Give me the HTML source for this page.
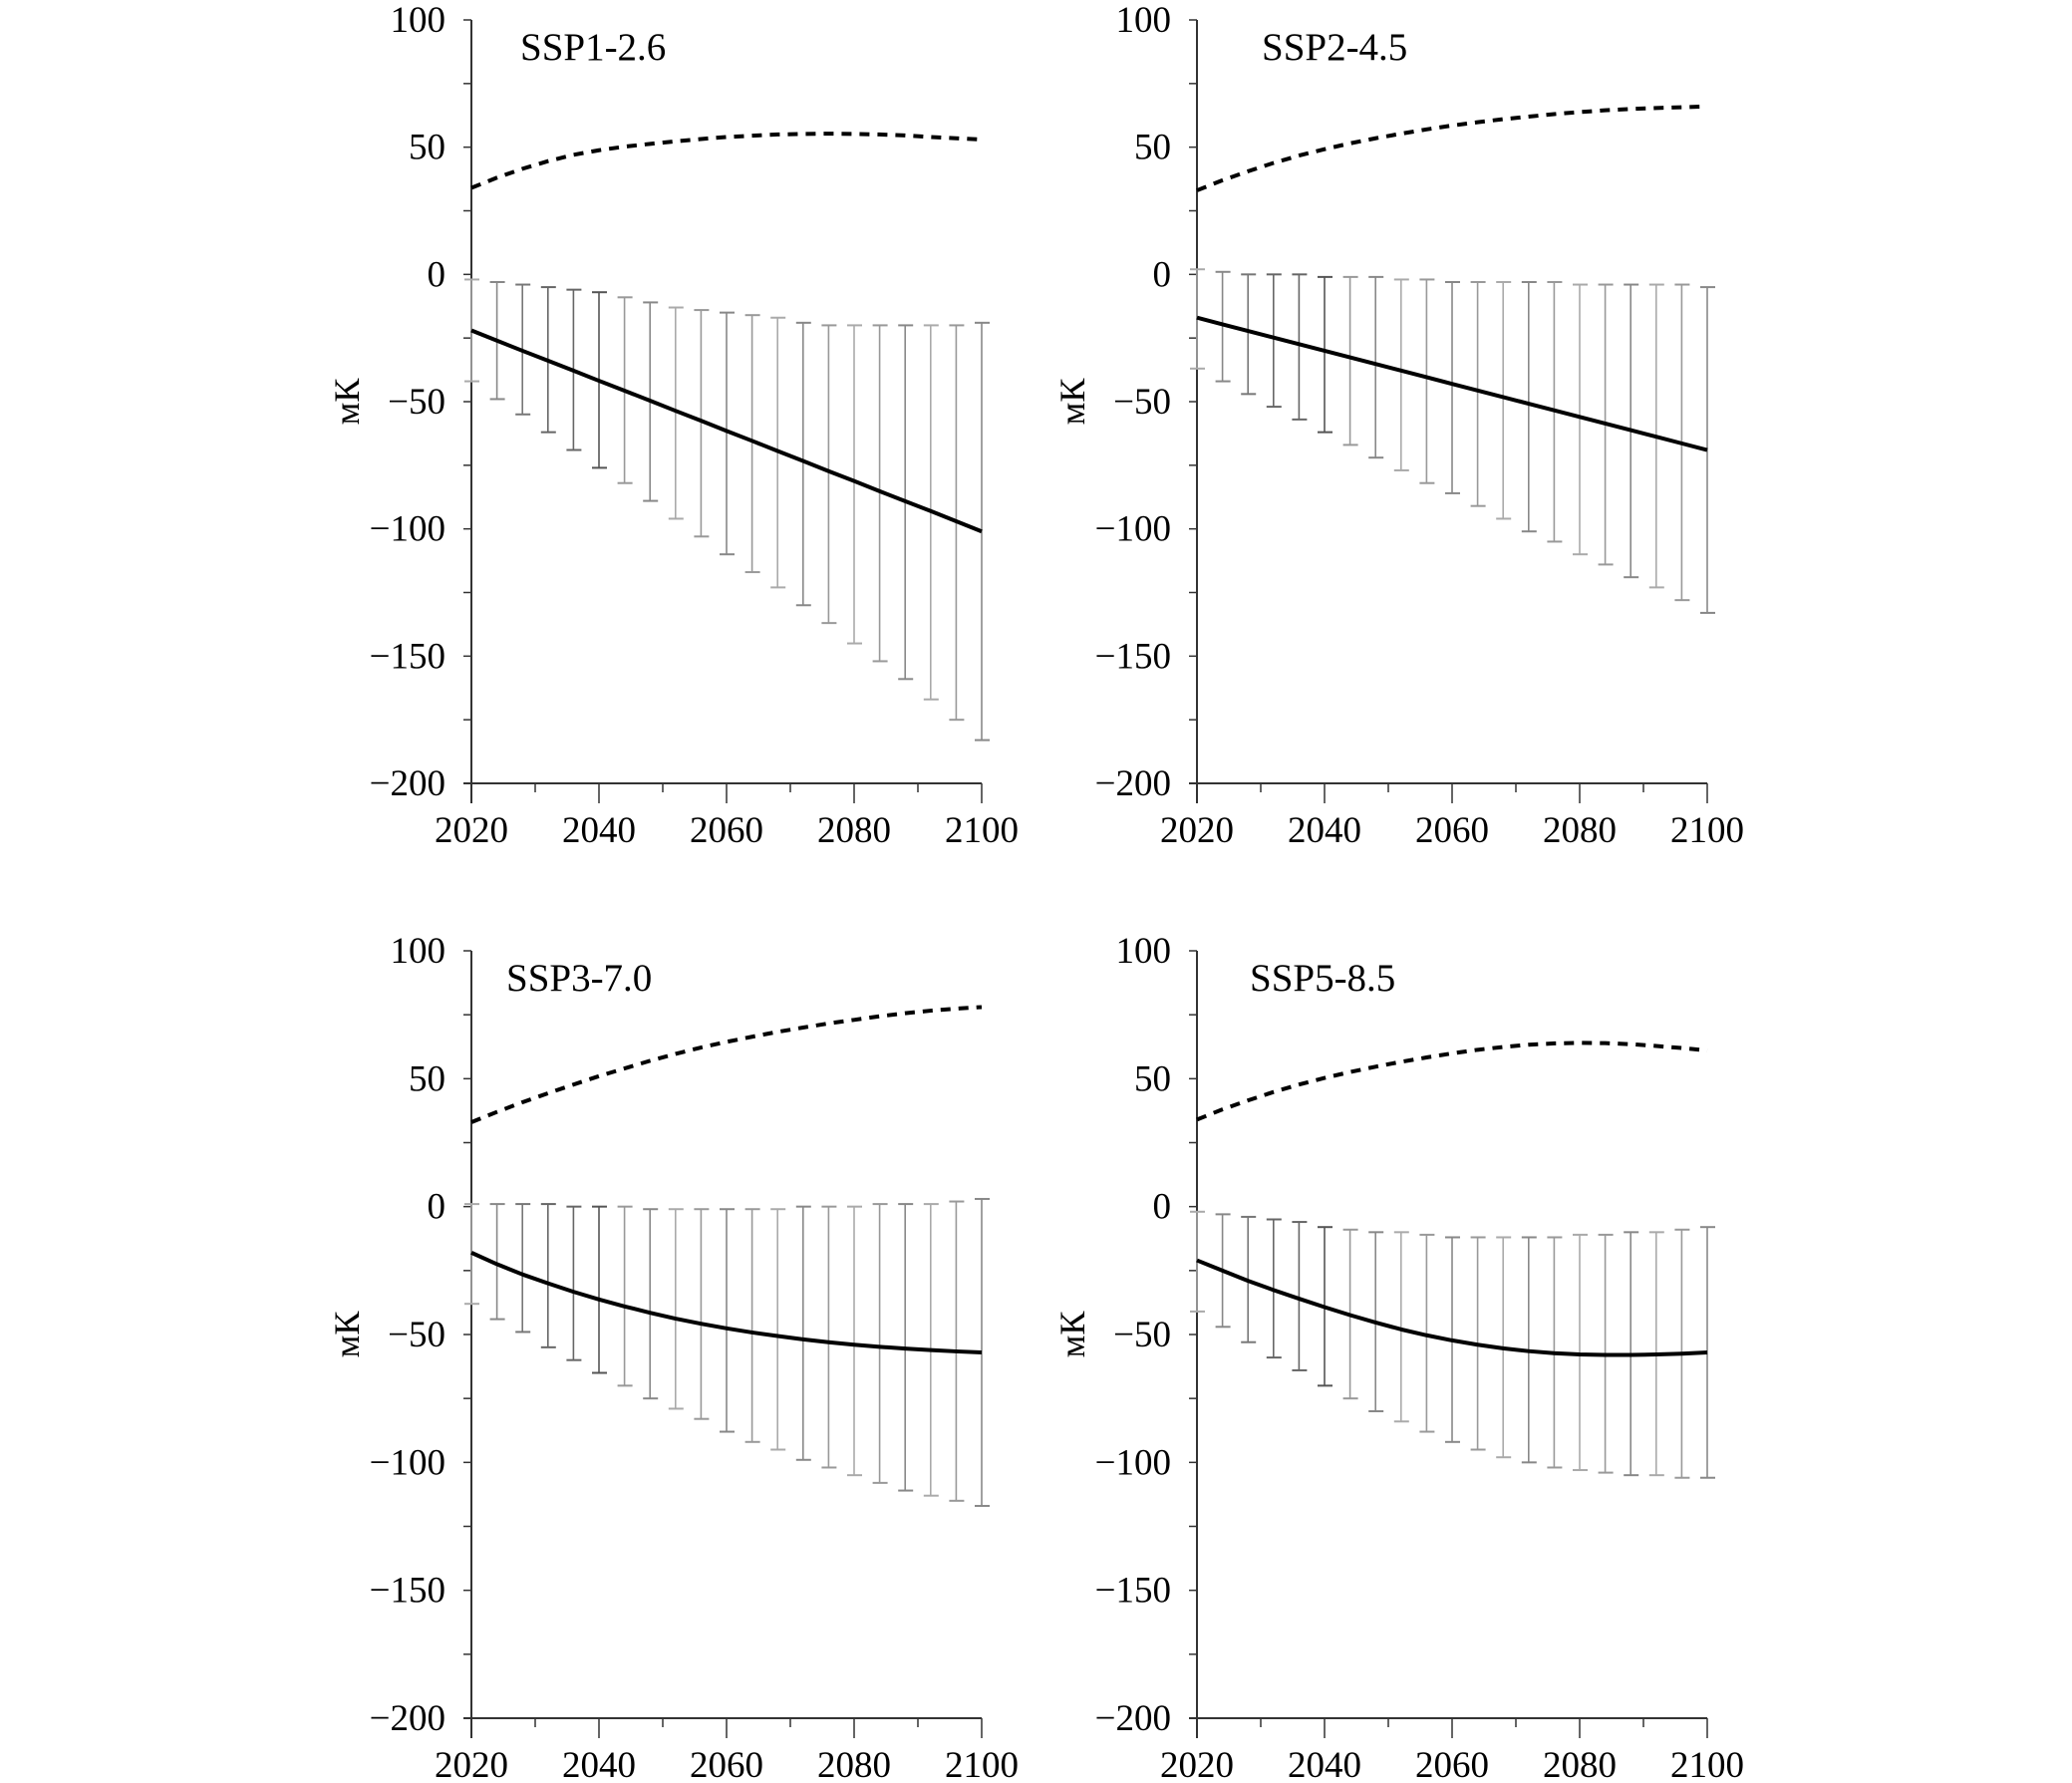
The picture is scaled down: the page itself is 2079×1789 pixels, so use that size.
<!DOCTYPE html>
<html><head><meta charset="utf-8"><style>
html,body{margin:0;padding:0;background:#fff;}
svg{display:block;}
text{font-family:"Liberation Serif","Times New Roman",serif;fill:#000;}
</style></head>
<body>
<svg id="fig" width="2079" height="1789" viewBox="0 0 2079 1789"></svg>
<script>
const years=[2020,2024,2028,2032,2036,2040,2044,2048,2052,2056,2060,2064,2068,2072,2076,2080,2084,2088,2092,2096,2100];
const titles=["SSP1-2.6","SSP2-4.5","SSP3-7.0","SSP5-8.5"];
const mean1=[-22,-26,-30,-33.9,-37.8,-41.8,-45.7,-49.6,-53.6,-57.5,-61.5,-65.4,-69.4,-73.3,-77.3,-81.2,-85.2,-89.1,-93,-97,-101];
const upper1=[-2,-3,-4,-5,-6,-7,-9,-11,-13,-14,-15,-16,-17,-19,-20,-20,-20,-20,-20,-20,-19];
const lower1=[-42,-49,-55,-62,-69,-76,-82,-89,-96,-103,-110,-117,-123,-130,-137,-145,-152,-159,-167,-175,-183];
const dash1=[34,38,41.5,44.5,47,48.8,50.2,51.3,52.3,53.2,54,54.5,55,55.2,55.3,55.2,55,54.6,54,53.5,53];
const mean2=[-17,-19.6,-22.2,-24.8,-27.4,-30,-32.6,-35.2,-37.8,-40.4,-43,-45.6,-48.2,-50.8,-53.4,-56,-58.6,-61.2,-63.8,-66.4,-69];
const upper2=[2,1,0,0,0,-1,-1,-1,-2,-2,-3,-3,-3,-3,-3,-4,-4,-4,-4,-4,-5];
const lower2=[-37,-42,-47,-52,-57,-62,-67,-72,-77,-82,-86,-91,-96,-101,-105,-110,-114,-119,-123,-128,-133];
const dash2=[33,37,40.5,43.8,46.7,49.2,51.5,53.5,55.3,57,58.5,59.8,61,62,63,63.8,64.5,65,65.4,65.7,66];
const mean3=[-18,-22.5,-26.5,-30,-33.3,-36.3,-39,-41.5,-43.8,-45.8,-47.6,-49.2,-50.6,-51.9,-53,-54,-54.8,-55.5,-56.1,-56.6,-57];
const upper3=[1,1,1,1,0,0,0,-1,-1,-1,-1,-1,-1,0,0,0,1,1,1,2,3];
const lower3=[-38,-44,-49,-55,-60,-65,-70,-75,-79,-83,-88,-92,-95,-99,-102,-105,-108,-111,-113,-115,-117];
const dash3=[33,37,40.8,44.3,47.7,51,54,57,59.7,62.2,64.4,66.4,68.3,70,71.6,73,74.4,75.6,76.6,77.4,78];
const mean4=[-21,-25,-29,-32.6,-36,-39.3,-42.4,-45.3,-48,-50.3,-52.3,-54,-55.4,-56.5,-57.3,-57.8,-58,-58,-57.8,-57.5,-57];
const upper4=[-2,-3,-4,-5,-6,-8,-9,-10,-10,-11,-12,-12,-12,-12,-12,-11,-11,-10,-10,-9,-8];
const lower4=[-41,-47,-53,-59,-64,-70,-75,-80,-84,-88,-92,-95,-98,-100,-102,-103,-104,-105,-105,-106,-106];
const dash4=[34,38,41.5,44.8,47.7,50.3,52.6,54.7,56.6,58.3,59.9,61.3,62.4,63.3,63.8,64,63.9,63.5,62.8,62,61];
const yTicks=[100,50,0,-50,-100,-150,-200];
const xTicks=[2020,2040,2060,2080,2100];

const NS="http://www.w3.org/2000/svg";
const svg=document.getElementById('fig');
function mk(tag,attrs,parent){const e=document.createElementNS(NS,tag);for(const k in attrs)e.setAttribute(k,attrs[k]);(parent||svg).appendChild(e);return e;}

const panels=[
 {x0:473,yTop:20,yBot:786,mean:mean1,up:upper1,lo:lower1,dash:dash1,tx:522},
 {x0:1201,yTop:20,yBot:786,mean:mean2,up:upper2,lo:lower2,dash:dash2,tx:1266},
 {x0:473,yTop:954,yBot:1724,mean:mean3,up:upper3,lo:lower3,dash:dash3,tx:508},
 {x0:1201,yTop:954,yBot:1724,mean:mean4,up:upper4,lo:lower4,dash:dash4,tx:1254}
];
const greys=['#aaa','#888','#777','#666','#666','#555','#999','#888','#aaa','#999','#888','#999','#aaa','#888','#999','#aaa','#999','#888','#aaa','#999','#888'];

panels.forEach((p,i)=>{
 const W=512;
 const sx=v=>p.x0+(v-2020)/80*W;
 const sy=v=>p.yTop+(100-v)/300*(p.yBot-p.yTop);
 const g=mk('g',{});
 
 
 const ya=mk('line',{x1:p.x0,y1:p.yTop,x2:p.x0,y2:p.yBot+20,stroke:'#333','stroke-width':2},g);
 
 
 const xa=mk('line',{x1:p.x0-8,y1:p.yBot,x2:sx(2100),y2:p.yBot,stroke:'#333','stroke-width':2},g);
 
 
 for(let v=100;v>=-200;v-=25){
  mk('line',{x1:p.x0-8,y1:sy(v),x2:p.x0,y2:sy(v),stroke:'#333','stroke-width':1.5},g);
 }
 yTicks.forEach(v=>{
  const t=mk('text',{x:p.x0-26,y:sy(v)+12,'text-anchor':'end','font-size':37},g);
  t.textContent=(v<0?'\u2212'+(-v):v);
  
  
 });
 for(let v=2020;v<=2100;v+=10){
  const major=(v%20===0);
  mk('line',{x1:sx(v),y1:p.yBot,x2:sx(v),y2:p.yBot+(major?20:9),stroke:'#333','stroke-width':1.5},g);
 }
 xTicks.forEach(v=>{
  const t=mk('text',{x:sx(v),y:p.yBot+59,'text-anchor':'middle','font-size':37},g);
  t.textContent=v;
  
  
 });
 const yl=mk('text',{x:0,y:0,'font-size':36,'text-anchor':'middle',transform:`translate(${p.x0-113},${sy(-50)}) rotate(-90)`},g);
 yl.textContent='мК';
 
 
 const tt=mk('text',{x:p.tx,y:p.yTop+40,'font-size':39},g);
 tt.textContent=titles[i];
 
 
 years.forEach((yr,k)=>{
  const c=greys[k];
  const b=mk('line',{x1:sx(yr),y1:sy(p.up[k]),x2:sx(yr),y2:sy(p.lo[k]),stroke:c,'stroke-width':1.6},g);
  
  
  mk('line',{x1:sx(yr)-7,y1:sy(p.up[k]),x2:sx(yr)+8,y2:sy(p.up[k]),stroke:c,'stroke-width':2},g);
  mk('line',{x1:sx(yr)-7,y1:sy(p.lo[k]),x2:sx(yr)+8,y2:sy(p.lo[k]),stroke:c,'stroke-width':2},g);
 });
 const mline=mk('polyline',{points:years.map((yr,k)=>sx(yr)+','+sy(p.mean[k])).join(' '),fill:'none',stroke:'#000','stroke-width':4,'stroke-linejoin':'round'},g);
 
 
 const dl=mk('polyline',{points:years.map((yr,k)=>sx(yr)+','+sy(p.dash[k])).join(' '),fill:'none',stroke:'#000','stroke-width':4,'stroke-dasharray':'10 8'},g);
 
 
});
</script>
</body></html>
